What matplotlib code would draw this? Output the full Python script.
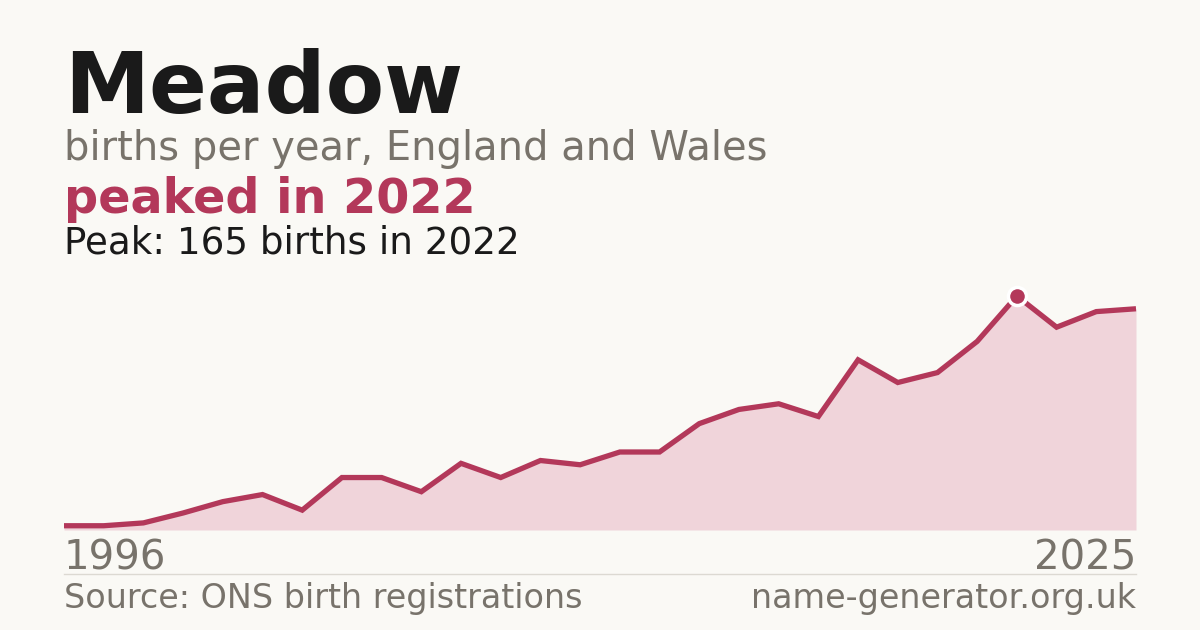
import matplotlib
matplotlib.use("Agg")
import matplotlib.pyplot as plt
import numpy as np

# ---------------------------------------------------------------------------
# Data (births per year)
# ---------------------------------------------------------------------------
years = [1996, 1997] + list(range(2000, 2026))
births = [3, 3, 5, 12, 20, 25, 14, 37, 37, 27, 47, 37, 49, 46, 55, 55,
          75, 85, 89, 80, 120, 104, 111, 133, 165, 143, 154, 156]

name = "Meadow"
subtitle = "births per year, England and Wales"
headline = "peaked in 2022"
source = "Source: ONS birth registrations"
site = "name-generator.org.uk"

# ---------------------------------------------------------------------------
# Style
# ---------------------------------------------------------------------------
BG = "#faf9f5"
RED = "#b3385a"
FILL = "#f0d4da"
GREY = "#78736b"
INK = "#1a1a1a"
W, H = 1200, 630

fig = plt.figure(figsize=(W / 100, H / 100), dpi=100, facecolor=BG)

# axes: x from 64px to 1136px, value 0 at y=530px, peak at y=296px
ax = fig.add_axes([64 / W, (H - 530) / H, (1136 - 64) / W, (530 - 296) / H])
ax.set_facecolor(BG)
ax.patch.set_alpha(0)

xs = np.arange(len(years))
peak_i = int(np.argmax(births))

ax.fill_between(xs, births, 0, color=FILL, linewidth=0, zorder=1)
ax.plot(xs, births, color=RED, lw=3.8, solid_joinstyle="miter",
        solid_capstyle="butt", zorder=2, clip_on=False)
ax.plot(xs[peak_i], births[peak_i], "o", ms=13, mfc=RED, mec="white", mew=2.5,
        zorder=3, clip_on=False)

ax.set_xlim(0, len(years) - 1)
ax.set_ylim(0, max(births))
ax.set_axis_off()

# ---------------------------------------------------------------------------
# Text
# ---------------------------------------------------------------------------
def fy(px):
    return 1 - px / H

x0 = 64 / W
x1 = 1136 / W
fig.text(x0, fy(113), name, fontsize=61.5, fontweight="bold", color=INK, va="baseline")
fig.text(x0, fy(160), subtitle, fontsize=28.8, color=GREY, va="baseline")
fig.text(x0, fy(213), headline, fontsize=34.4, fontweight="bold", color=RED, va="baseline")
fig.text(x0, fy(253), f"Peak: {births[peak_i]} births in {years[peak_i]}",
         fontsize=26.8, color=INK, va="baseline")

fig.text(x0, fy(570), str(years[0]), fontsize=29, color=GREY, va="baseline")
fig.text(x1, fy(570), str(years[-1]), fontsize=29, color=GREY, va="baseline", ha="right")

fig.add_artist(plt.Line2D([x0, x1], [fy(574), fy(574)], color="#dcd9d2", lw=1))

fig.text(x0, fy(608), source, fontsize=24, color=GREY, va="baseline")
fig.text(x1, fy(608), site, fontsize=24, color=GREY, va="baseline", ha="right")

fig.savefig("out.png", dpi=100, facecolor=BG)
